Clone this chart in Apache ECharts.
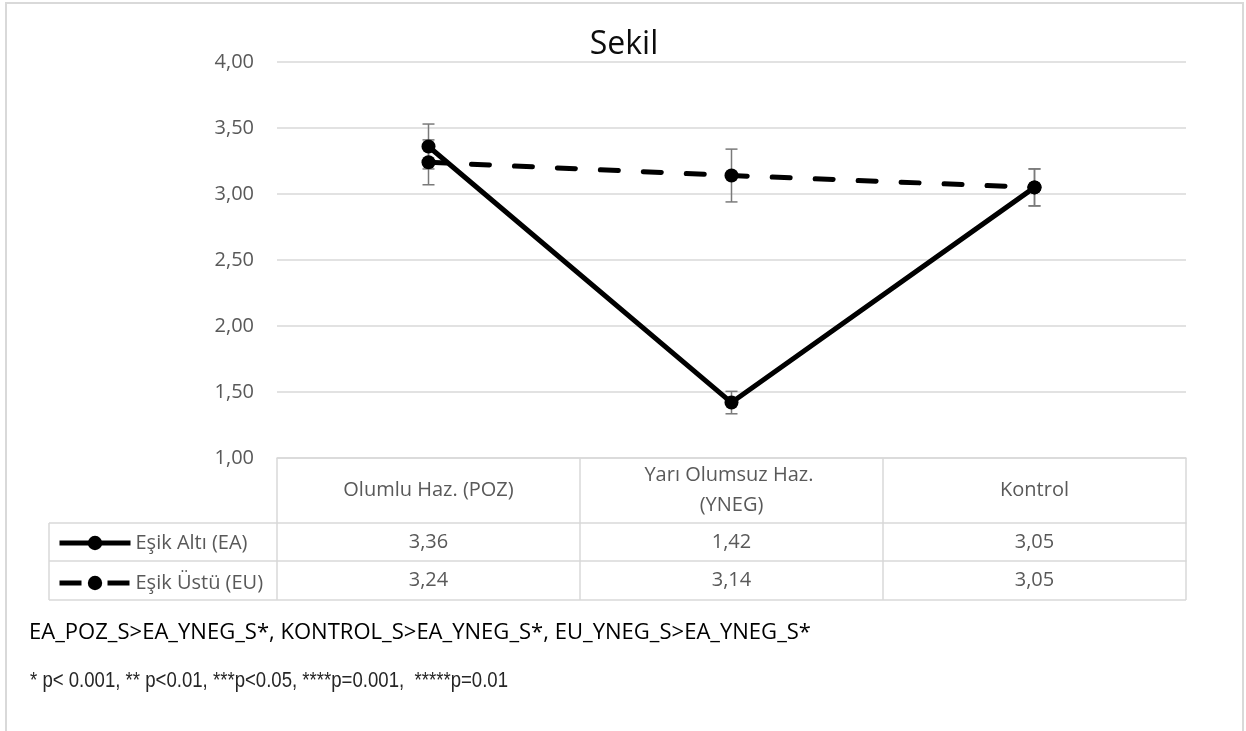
<!DOCTYPE html>
<html><head><meta charset="utf-8">
<script src="https://cdn.jsdelivr.net/npm/echarts@6/dist/echarts.min.js"></script>
<style>html,body{margin:0;padding:0;background:#fff}#c{width:1246px;height:731px}</style>
</head><body><div id="c"></div>
<script>
// ---- data ----
const categories = ['Olumlu Haz. (POZ)', 'Yarı Olumsuz Haz. (YNEG)', 'Kontrol'];
const seriesNames = ['Eşik Altı (EA)', 'Eşik Üstü (EU)'];
const eaValues = [3.36, 1.42, 3.05];
const euValues = [3.24, 3.14, 3.05];
const eaErrors = [0.17, 0.085, 0.14];
const euErrors = [0.17, 0.20, 0.14];
const yMin = 1, yMax = 4, yInterval = 0.5;
const titleText = 'Sekil';
const noteLine1 = 'EA_POZ_S>EA_YNEG_S*, KONTROL_S>EA_YNEG_S*, EU_YNEG_S>EA_YNEG_S*';
const noteLine2 = '* p< 0.001, ** p<0.01, ***p<0.05, ****p=0.001,  *****p=0.01';

// ---- layout ----
const G = {left: 277, right: 1186, top: 62, bottom: 458};
const rowHeader = 65, row1 = 38, row2 = 39;
const tableLeft = 49;
const gridColor = '#d9d9d9';
const textColor = '#595959';
const fmt = v => v.toFixed(2).replace('.', ',');

function measure(text, font) {
  const c = document.createElement('canvas').getContext('2d');
  c.font = font; return c.measureText(text).width;
}

function errorSeries(values, errs, name) {
  return {
    type: 'custom', name: name, z: 1, silent: true,
    data: values.map((v, i) => [i, v - errs[i], v + errs[i]]),
    encode: {x: 0, y: [1, 2]},
    renderItem(params, api) {
      const p1 = api.coord([api.value(0), api.value(1)]);
      const p2 = api.coord([api.value(0), api.value(2)]);
      const hw = 6;
      const style = {stroke: '#7a7a7a', lineWidth: 1.5, fill: null};
      return {type: 'group', children: [
        {type: 'line', shape: {x1: p1[0], y1: p1[1], x2: p1[0], y2: p2[1]}, style},
        {type: 'line', shape: {x1: p1[0] - hw, y1: p1[1], x2: p1[0] + hw, y2: p1[1]}, style},
        {type: 'line', shape: {x1: p1[0] - hw, y1: p2[1], x2: p1[0] + hw, y2: p2[1]}, style}
      ]};
    }
  };
}

const chart = echarts.init(document.getElementById('c'));
const tBottom = G.bottom + rowHeader + row1 + row2;
const lineStyleG = {stroke: gridColor, lineWidth: 1.5};

const f1 = "21px 'Open Sans'";
const f2 = "22px 'Liberation Sans'";
const s1 = 782 / measure(noteLine1, f1);
const s2 = 478 / measure(noteLine2, f2);

const rowAxis = (vals, offset) => ({
  type: 'category', gridIndex: 0, position: 'bottom', offset: offset,
  data: vals.map(fmt), boundaryGap: true,
  axisLine: {show: true, lineStyle: {color: gridColor, width: 1.5}},
  axisTick: {show: false}, splitLine: {show: false},
  axisLabel: {interval: 0, margin: 19, verticalAlign: 'middle', color: textColor, fontSize: 20, fontFamily: 'Open Sans'}
});

chart.setOption({
  animation: false,
  grid: {left: G.left, right: 1246 - G.right, top: G.top, bottom: 731 - G.bottom},
  xAxis: [
    {
      type: 'category', data: categories, boundaryGap: true,
      axisLine: {show: true, lineStyle: {color: gridColor, width: 1.5}},
      axisTick: {show: true, length: rowHeader + row1 + row2, lineStyle: {color: gridColor, width: 1.5}},
      axisLabel: {interval: 0, margin: 32, verticalAlign: 'middle', color: textColor, fontSize: 20,
        fontFamily: 'Open Sans', lineHeight: 30, width: 215, overflow: 'break'}
    },
    rowAxis(eaValues, rowHeader),
    rowAxis(euValues, rowHeader + row1)
  ],
  yAxis: {
    type: 'value', min: yMin, max: yMax, interval: yInterval,
    axisLine: {show: false}, axisTick: {show: false},
    splitLine: {lineStyle: {color: gridColor, width: 1.5}},
    axisLabel: {formatter: fmt, margin: 23, color: textColor, fontSize: 20, fontFamily: 'Open Sans'}
  },
  legend: {
    orient: 'vertical', left: tableLeft + 8, top: G.bottom + rowHeader + row1 / 2 - 9, padding: 0,
    itemWidth: 71, itemHeight: 18, itemGap: 20,
    lineStyle: {width: 5},
    textStyle: {color: textColor, fontSize: 20, fontFamily: 'Open Sans', lineHeight: 18},
    data: [
      {name: seriesNames[0]},
      {name: seriesNames[1], lineStyle: {type: [22, 26], cap: 'butt'}}
    ]
  },
  series: [
    errorSeries(eaValues, eaErrors, 'errEA'),
    errorSeries(euValues, euErrors, 'errEU'),
    {type: 'line', name: seriesNames[0], data: eaValues, symbol: 'circle', symbolSize: 14, z: 3,
      lineStyle: {color: '#000', width: 5}, itemStyle: {color: '#000'}},
    {type: 'line', name: seriesNames[1], data: euValues, symbol: 'circle', symbolSize: 14, z: 3,
      lineStyle: {color: '#000', width: 5, type: [18, 25], cap: 'round'}, itemStyle: {color: '#000'}}
  ],
  graphic: [
    {type: 'polyline', silent: true, shape: {points: [[6, 731], [6, 3], [1243, 3], [1243, 731]]},
      style: {stroke: gridColor, lineWidth: 2, fill: null}},
    {type: 'text', x: 624, y: 45, silent: true,
      style: {text: titleText, fontSize: 32, fontFamily: 'Open Sans', fill: '#0d0d0d',
        textAlign: 'center', textVerticalAlign: 'middle', align: 'center', verticalAlign: 'middle'}},
    {type: 'line', silent: true, shape: {x1: tableLeft, y1: G.bottom + rowHeader, x2: G.left, y2: G.bottom + rowHeader}, style: lineStyleG},
    {type: 'line', silent: true, shape: {x1: tableLeft, y1: G.bottom + rowHeader + row1, x2: G.left, y2: G.bottom + rowHeader + row1}, style: lineStyleG},
    {type: 'line', silent: true, shape: {x1: tableLeft, y1: tBottom, x2: G.right, y2: tBottom}, style: lineStyleG},
    {type: 'line', silent: true, shape: {x1: tableLeft, y1: G.bottom + rowHeader, x2: tableLeft, y2: tBottom}, style: lineStyleG},
    {type: 'text', x: 29, y: 633, scaleX: s1, silent: true,
      style: {text: noteLine1, fontSize: 21, fontFamily: 'Open Sans', fill: '#000',
        textAlign: 'left', textVerticalAlign: 'middle', align: 'left', verticalAlign: 'middle'}},
    {type: 'text', x: 30, y: 681, scaleX: s2, silent: true,
      style: {text: noteLine2, fontSize: 22, fontFamily: 'Liberation Sans', fill: '#262626',
        textAlign: 'left', textVerticalAlign: 'middle', align: 'left', verticalAlign: 'middle'}}
  ]
});
</script></body></html>
